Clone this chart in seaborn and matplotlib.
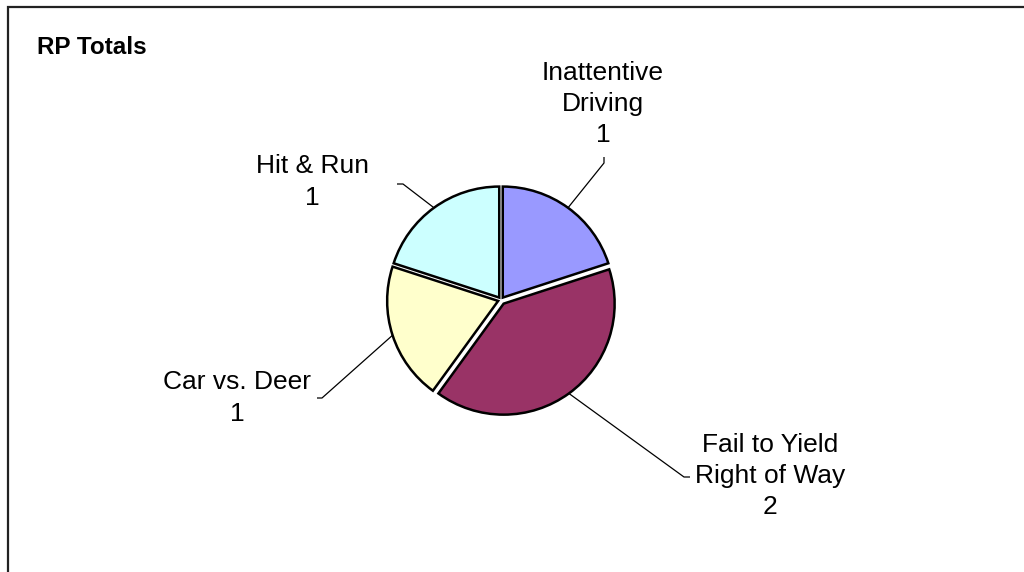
import numpy as np
import matplotlib
matplotlib.use("Agg")
import matplotlib.pyplot as plt
import seaborn as sns
from matplotlib.patches import Rectangle

categories = ["Inattentive\nDriving", "Fail to Yield\nRight of Way", "Car vs. Deer", "Hit & Run"]
values = [1, 2, 1, 1]
colors = ["#9999FF", "#993366", "#FFFFCC", "#CCFFFF"]
title = "RP Totals"

sns.set_theme(style="white")
plt.rcParams['font.family'] = ['Liberation Sans', 'DejaVu Sans']

W, H = 1024, 572
fig = plt.figure(figsize=(W / 100, H / 100), dpi=100)
ax = fig.add_axes([0, 0, 1, 1])
ax.set_xlim(0, W)
ax.set_ylim(0, H)
ax.axis("off")

cx, cy, R = 501, H - 300, 111
wedges, _ = ax.pie(values, colors=colors, startangle=90, counterclock=False,
                   center=(cx, cy), radius=R,
                   explode=[3, 4.5, 3, 3],
                   wedgeprops=dict(edgecolor="black", linewidth=1.8))
ax.set_xlim(0, W)
ax.set_ylim(0, H)
ax.set_aspect("equal")

# label block centre (pixels) and leader endpoints (pixels)
label_pos = [(603, 104), (770, 476), (237, 398), (312, 182)]
leader_pts = [[(604, 163), (604, 157)],
              [(684, 477), (690, 477)],
              [(322, 398), (317, 398)],
              [(403, 184), (397, 184)]]

for w, name, v, (lx, ly), pts in zip(wedges, categories, values, label_pos, leader_pts):
    th = np.deg2rad((w.theta1 + w.theta2) / 2)
    ex = w.center[0] + w.r * np.cos(th)
    ey = w.center[1] + w.r * np.sin(th)
    xs = [ex] + [p[0] for p in pts]
    ys = [ey] + [H - p[1] for p in pts]
    ax.plot(xs, ys, color="black", lw=0.9, solid_capstyle="butt")
    ax.text(lx, H - ly, f"{name}\n{v}", ha="center", va="center", fontsize=19,
            color="black", linespacing=1.38)

ax.text(37, H - 47, title, ha="left", va="center", fontsize=17.5, fontweight="bold", color="black")

fig.patches.append(Rectangle((8 / W, -0.1), 1.2, (H - 7) / H + 0.1, transform=fig.transFigure,
                             fill=False, edgecolor="#222222", linewidth=1.6))

fig.savefig("out.png", dpi=100)
